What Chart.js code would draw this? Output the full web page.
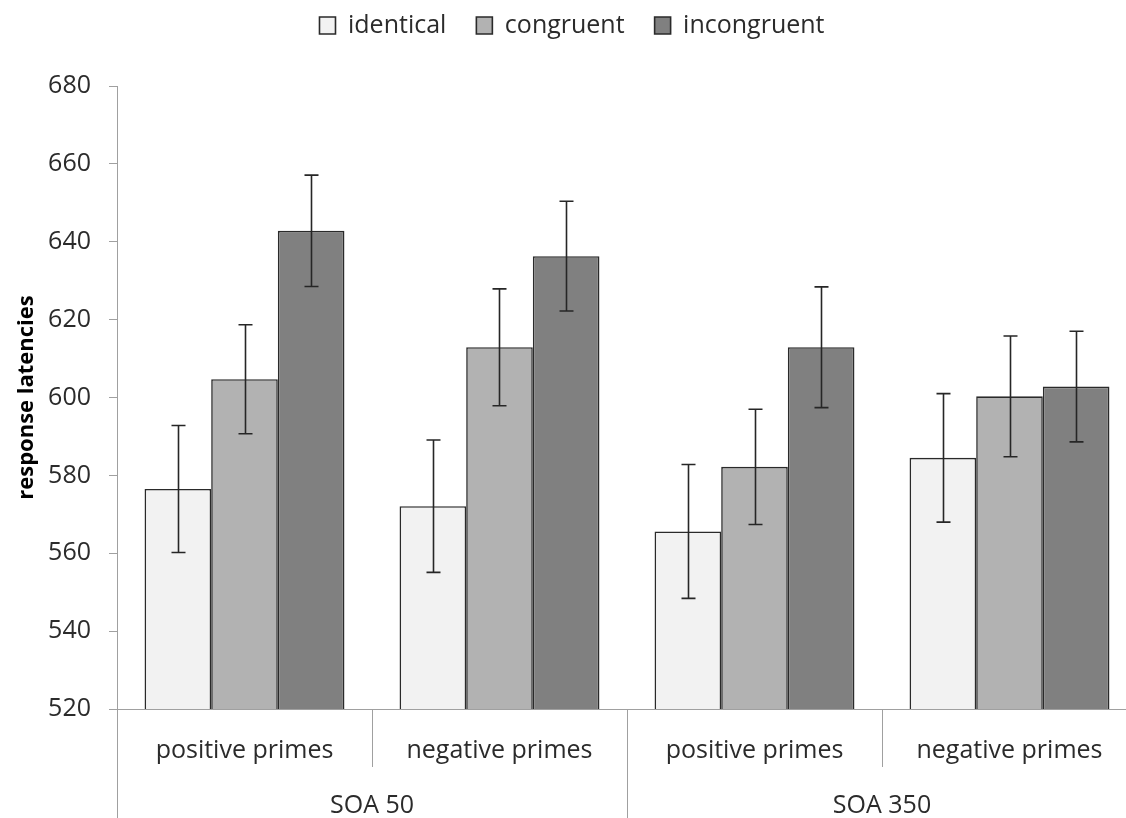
<!DOCTYPE html>
<html><head><meta charset="utf-8">
<script src="https://cdn.jsdelivr.net/npm/chart.js@4/dist/chart.umd.min.js"></script>
<style>html,body{margin:0;padding:0;background:#fff;overflow:hidden;width:1126px;height:818px}canvas{display:block}</style>
</head><body>
<canvas id="c" width="1140" height="818"></canvas>
<script>
const categories = ['positive primes', 'negative primes', 'positive primes', 'negative primes'];
const groupLabels = ['SOA 50', 'SOA 350'];
const seriesNames = ['identical', 'congruent', 'incongruent'];
const identical = [576.5, 572.1, 565.6, 584.5];
const congruent = [604.7, 612.9, 582.2, 600.3];
const incongruent = [642.8, 636.3, 612.9, 602.8];
const identicalErr = [16.3, 17.0, 17.2, 16.5];
const congruentErr = [14.0, 15.0, 14.8, 15.5];
const incongruentErr = [14.3, 14.1, 15.5, 14.2];
const yMin = 520, yMax = 680, yStep = 20;
const yTitle = 'response latencies';

const FONT = "'Open Sans', 'Liberation Sans', sans-serif";
const TEXT = '#2b2b2b';
const AXIS = '#a0a0a0';
const fills = ['#f2f2f2', '#b2b2b2', '#808080'];
const errs = [identicalErr, congruentErr, incongruentErr];

const legendSpacer = {
  id: 'legendSpacer',
  beforeLayout(chart) {
    const lg = chart.legend;
    if (lg && !lg._spacerPatched) {
      const orig = lg.fit;
      lg.fit = function () { orig.call(this); this.height += 38; };
      lg._spacerPatched = true;
    }
  }
};

const errorBars = {
  id: 'errorBars',
  afterDatasetsDraw(chart) {
    const ctx = chart.ctx, y = chart.scales.y;
    ctx.save();
    ctx.strokeStyle = '#262626';
    ctx.lineWidth = 1.6;
    chart.data.datasets.forEach((ds, i) => {
      const meta = chart.getDatasetMeta(i);
      meta.data.forEach((bar, j) => {
        const v = ds.data[j], e = ds.errors[j];
        const x = Math.round(bar.x) + 0.5;
        const yt = y.getPixelForValue(v + e), yb = y.getPixelForValue(v - e);
        ctx.beginPath();
        ctx.moveTo(x, yt); ctx.lineTo(x, yb);
        ctx.moveTo(x - 7, yt); ctx.lineTo(x + 7, yt);
        ctx.moveTo(x - 7, yb); ctx.lineTo(x + 7, yb);
        ctx.stroke();
      });
    });
    ctx.restore();
  }
};

const groupAxis = {
  id: 'groupAxis',
  afterDraw(chart) {
    const ctx = chart.ctx, xs = chart.scales.x, a = chart.chartArea;
    const H = chart.height;
    ctx.save();
    ctx.strokeStyle = AXIS;
    ctx.lineWidth = 1;
    const line = (x, y0, y1) => { ctx.beginPath(); ctx.moveTo(Math.round(x) + 0.5, y0); ctx.lineTo(Math.round(x) + 0.5, y1); ctx.stroke(); };
    line(a.left - 0.5, a.bottom, H);
    line(xs.getPixelForValue(0.5), a.bottom, a.bottom + 58);
    line(xs.getPixelForValue(2.5), a.bottom, a.bottom + 58);
    line(xs.getPixelForValue(1.5), a.bottom, H);
    ctx.fillStyle = TEXT;
    ctx.font = '25px ' + FONT;
    ctx.textAlign = 'center';
    ctx.textBaseline = 'middle';
    groupLabels.forEach((g, k) => {
      ctx.fillText(g, xs.getPixelForValue(2 * k + 0.5), 806);
    });
    ctx.restore();
  }
};

new Chart(document.getElementById('c'), {
  type: 'bar',
  data: {
    labels: categories,
    datasets: [
      { label: seriesNames[0], data: identical, errors: errs[0], backgroundColor: fills[0] },
      { label: seriesNames[1], data: congruent, errors: errs[1], backgroundColor: fills[1] },
      { label: seriesNames[2], data: incongruent, errors: errs[2], backgroundColor: fills[2] }
    ].map(d => Object.assign(d, { borderColor: '#2a2a2a', borderWidth: 1.6, categoryPercentage: 0.784, barPercentage: 1.0 }))
  },
  options: {
    responsive: false,
    animation: false,
    devicePixelRatio: 1,
    layout: { padding: { top: -17, left: 7, right: 3, bottom: 0 } },
    plugins: {
      tooltip: { enabled: false },
      legend: {
        position: 'top',
        labels: {
          font: { family: FONT, size: 25 },
          color: TEXT,
          boxWidth: 16,
          boxHeight: 17,
          padding: 30
        }
      }
    },
    scales: {
      x: {
        type: 'category',
        grid: { display: true, drawOnChartArea: false, drawTicks: false },
        border: { display: true, color: AXIS, width: 1 },
        ticks: { font: { family: FONT, size: 25 }, color: TEXT, padding: 27, maxRotation: 0, autoSkip: false },
        afterFit(s) { s.height = 109; }
      },
      y: {
        min: yMin, max: yMax,
        grid: { drawOnChartArea: false, drawTicks: true, tickLength: 8, color: AXIS },
        border: { display: true, color: AXIS, width: 1 },
        ticks: { stepSize: yStep, font: { family: FONT, size: 25 }, color: TEXT, padding: 18 },
        title: { display: true, text: yTitle, font: { family: FONT, size: 22, weight: 'bold' }, color: '#000', padding: { top: 7, bottom: 0 } },
        afterFit(s) { s.width = 110; }
      }
    }
  },
  plugins: [legendSpacer, errorBars, groupAxis]
});
</script>
</body></html>
